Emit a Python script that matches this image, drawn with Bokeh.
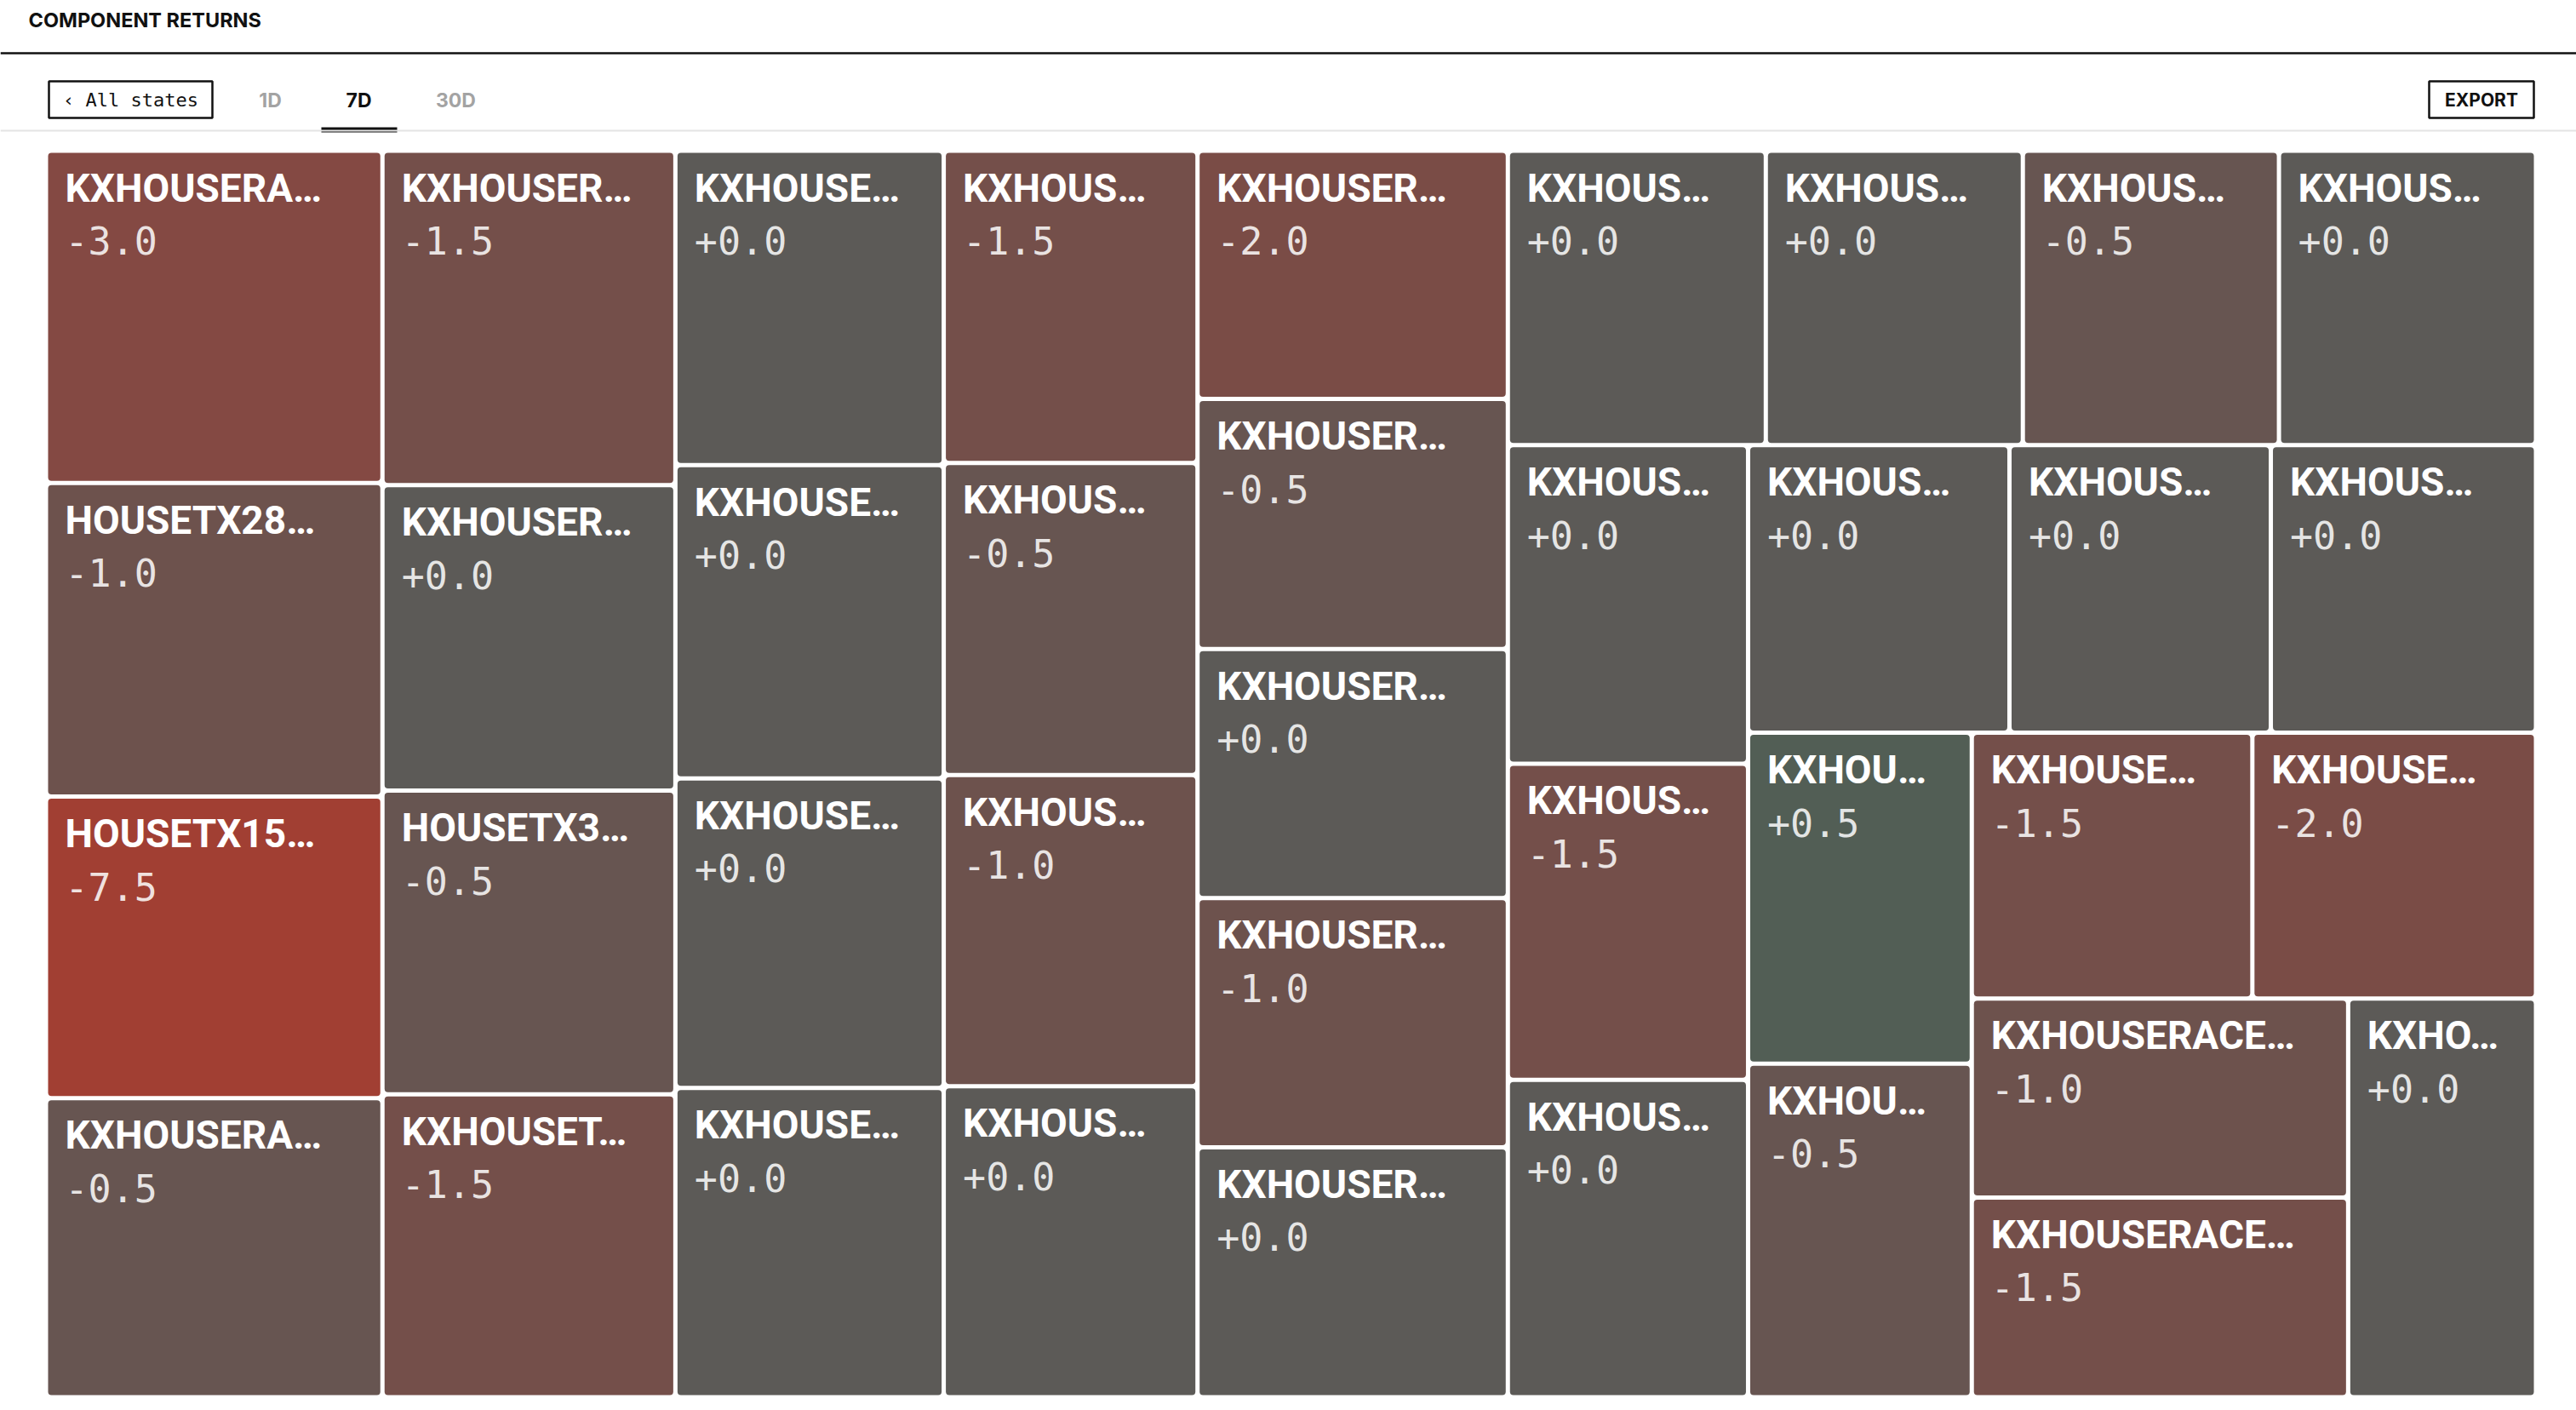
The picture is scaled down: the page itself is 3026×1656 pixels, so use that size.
import numpy as np
from bokeh.plotting import figure
from bokeh.models import ColumnDataSource, Range1d, Span
from bokeh.core.properties import value
from bokeh.embed import file_html
from bokeh.resources import INLINE

# ---------------- data ----------------
title = "COMPONENT RETURNS"
back_label = "\u2039 All states"
tabs = ["1D", "7D", "30D"]
active_tab = "7D"
export_label = "EXPORT"

labels = [
    "KXHOUSERA\u2026", "HOUSETX28\u2026", "HOUSETX15\u2026", "KXHOUSERA\u2026",
    "KXHOUSER\u2026", "KXHOUSER\u2026", "HOUSETX3\u2026", "KXHOUSET\u2026",
    "KXHOUSE\u2026", "KXHOUSE\u2026", "KXHOUSE\u2026", "KXHOUSE\u2026",
    "KXHOUS\u2026", "KXHOUS\u2026", "KXHOUS\u2026", "KXHOUS\u2026",
    "KXHOUSER\u2026", "KXHOUSER\u2026", "KXHOUSER\u2026", "KXHOUSER\u2026", "KXHOUSER\u2026",
    "KXHOUS\u2026", "KXHOUS\u2026", "KXHOUS\u2026", "KXHOUS\u2026",
    "KXHOUS\u2026", "KXHOUS\u2026", "KXHOUS\u2026",
    "KXHOUS\u2026", "KXHOUS\u2026", "KXHOUS\u2026",
    "KXHOU\u2026", "KXHOU\u2026",
    "KXHOUSE\u2026", "KXHOUSE\u2026",
    "KXHOUSERACE\u2026", "KXHOUSERACE\u2026",
    "KXHO\u2026",
]
returns_7d = [
    -3.0, -1.0, -7.5, -0.5,
    -1.5, 0.0, -0.5, -1.5,
    0.0, 0.0, 0.0, 0.0,
    -1.5, -0.5, -1.0, 0.0,
    -2.0, -0.5, 0.0, -1.0, 0.0,
    0.0, 0.0, -0.5, 0.0,
    0.0, -1.5, 0.0,
    0.0, 0.0, 0.0,
    0.5, -0.5,
    -1.5, -2.0,
    -1.0, -1.5,
    0.0,
]
volume = [
    41.2, 38.9, 37.4, 37.1,
    36.1, 33.0, 32.8, 32.7,
    31.1, 31.0, 30.6, 30.6,
    29.2, 29.2, 29.1, 29.1,
    28.4, 28.6, 28.5, 28.5, 28.6,
    28.0, 27.9, 27.8, 27.9,
    28.2, 28.0, 28.1,
    27.7, 27.7, 28.1,
    27.3, 27.5,
    27.5, 27.8,
    27.6, 27.7,
    27.6,
]

# ---------------- style ----------------
stop_returns = [-7.5, -3.0, -2.0, -1.5, -1.0, -0.5, 0.0, 0.5]
stop_colors = ["#a13f33", "#844943", "#7a4c46", "#744f4a", "#6d524d",
               "#675551", "#5c5a57", "#525e55"]

W, H = 3026, 1652
MAP_L, MAP_T, MAP_R, MAP_B = 56, 179, 2976, 1638
GAP = 5


def hex_to_rgb(h):
    h = h.lstrip("#")
    return [int(h[i:i + 2], 16) for i in (0, 2, 4)]


def color_for(r):
    rgb = np.array([hex_to_rgb(c) for c in stop_colors], dtype=float)
    out = [int(round(np.interp(r, stop_returns, rgb[:, k]))) for k in range(3)]
    return "#%02x%02x%02x" % tuple(out)


def squarify(values, x0, y0, x1, y1, ratio=1.0):
    n = len(values)
    rects = [None] * n
    remaining = float(sum(values))
    i0 = i1 = 0
    while i0 < n:
        dx, dy = x1 - x0, y1 - y0
        s = values[i1]
        i1 += 1
        vmin = vmax = s
        alpha = max(dy / dx, dx / dy) / (remaining * ratio)
        beta = s * s * alpha
        best = max(vmax / beta, beta / vmin)
        while i1 < n:
            nv = values[i1]
            s += nv
            vmin = min(vmin, nv)
            vmax = max(vmax, nv)
            beta = s * s * alpha
            r = max(vmax / beta, beta / vmin)
            if r > best:
                s -= nv
                break
            best = r
            i1 += 1
        if dx < dy:
            h = dy * s / remaining
            xx = x0
            for i in range(i0, i1):
                w = dx * values[i] / s
                rects[i] = (xx, y0, xx + w, y0 + h)
                xx += w
            y0 += h
        else:
            w = dx * s / remaining
            yy = y0
            for i in range(i0, i1):
                hh = dy * values[i] / s
                rects[i] = (x0, yy, x0 + w, yy + hh)
                yy += hh
            x0 += w
        remaining -= s
        i0 = i1
    return rects


rects = squarify(volume, MAP_L - GAP / 2, MAP_T - GAP / 2,
                 MAP_R + GAP / 2, MAP_B + GAP / 2)
left = [r[0] + GAP / 2 for r in rects]
top = [r[1] + GAP / 2 for r in rects]
right = [r[2] - GAP / 2 for r in rects]
bottom = [r[3] - GAP / 2 for r in rects]

src = ColumnDataSource(dict(
    left=left, right=right, top=top, bottom=bottom,
    color=[color_for(r) for r in returns_7d],
    name=labels,
    ret=["%+.1f" % r for r in returns_7d],
    name_x=[l + 20 for l in left],
    name_y=[t + 41 for t in top],
    ret_y=[t + 103 for t in top],
))

p = figure(width=W, height=H, output_backend="svg", toolbar_location=None,
           x_range=Range1d(0, W), y_range=Range1d(H, 0),
           x_axis_location=None, y_axis_location=None, min_border=0)
p.grid.visible = False
p.outline_line_color = None
p.background_fill_color = "white"
p.border_fill_color = "white"

# header
p.text(x=[33], y=[23], text=[title], text_font=value("Inter"),
       text_font_style="bold", text_font_size="23.5px", text_color="#111111",
       text_baseline="middle")
p.add_layout(Span(location=62, dimension="width", line_color="#111111", line_width=2.5))
p.add_layout(Span(location=153, dimension="width", line_color="#e4e4e4", line_width=2))

p.quad(left=[57], right=[249], top=[95], bottom=[138], fill_color=None,
       line_color="#111111", line_width=2.5)
p.text(x=[153], y=[117], text=[back_label], text_font=value("DejaVu Sans Mono"),
       text_font_size="22px", text_color="#111111", text_align="center",
       text_baseline="middle")

tab_x = [317, 421, 535]
tab_colors = ["#111111" if t == active_tab else "#a3a3a3" for t in tabs]
p.text(x=tab_x, y=[117] * len(tabs), text=tabs, text_font=value("Inter"),
       text_font_style="bold", text_font_size="23px", text_color=tab_colors,
       text_align="center", text_baseline="middle")
ai = tabs.index(active_tab)
p.quad(left=[tab_x[ai] - 44], right=[tab_x[ai] + 45], top=[149], bottom=[155],
       fill_color="#111111", line_color=None)

p.quad(left=[2853], right=[2976], top=[95], bottom=[138], fill_color=None,
       line_color="#111111", line_width=2.5)
p.text(x=[2914.5], y=[117], text=[export_label], text_font=value("Inter"),
       text_font_style="bold", text_font_size="21px", text_color="#111111",
       text_align="center", text_baseline="middle")

# treemap
p.quad(left="left", right="right", top="top", bottom="bottom", source=src,
       fill_color="color", line_color=None, border_radius=4)
p.text(x="name_x", y="name_y", text="name", source=src, text_font=value("Roboto"),
       text_font_style="bold", text_font_size="46px", text_color="white",
       text_baseline="middle")
p.text(x="name_x", y="ret_y", text="ret", source=src,
       text_font=value("DejaVu Sans Mono"), text_font_size="45px",
       text_color="white", text_alpha=0.85, text_baseline="middle")

open("out.html", "w").write(file_html(p, INLINE))
